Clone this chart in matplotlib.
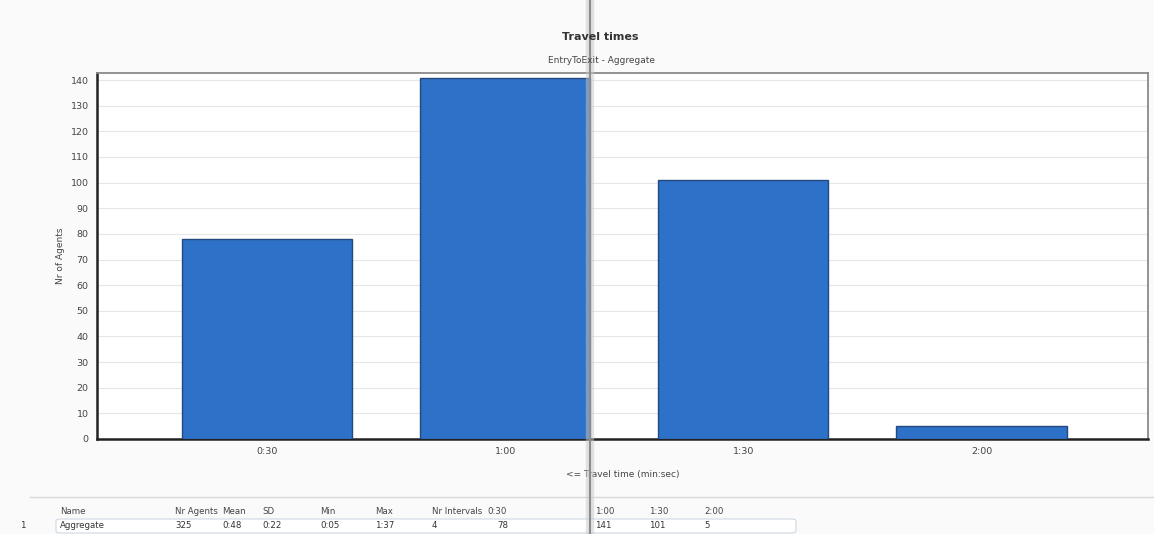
import numpy as np
import matplotlib.pyplot as plt
from matplotlib.patches import FancyBboxPatch
from matplotlib.lines import Line2D

# travel time histogram, EntryToExit - Aggregate
intervals = ['0:30', '1:00', '1:30', '2:00']
nr_agents = [78, 141, 101, 5]

# summary table under the chart
table_header = ['Name', 'Nr Agents', 'Mean', 'SD', 'Min', 'Max', 'Nr Intervals',
                '0:30', '1:00', '1:30', '2:00']
table_row = ['Aggregate', '325', '0:48', '0:22', '0:05', '1:37', '4',
             '78', '141', '101', '5']

plt.rcParams['font.family'] = ['DejaVu Sans']

fig = plt.figure(figsize=(11.54, 5.34), dpi=100, facecolor='#fafafa')
ax = fig.add_axes([0.084, 0.178, 0.911, 0.685])
ax.set_facecolor('white')

x = np.arange(len(intervals))
ax.bar(x, nr_agents, width=0.714, color='#2e71c8', edgecolor='#24497e', linewidth=1.0, zorder=3)

ax.set_xlim(-0.714, 3.70)
ax.set_ylim(0, 142.7)
ax.set_yticks(np.arange(0, 141, 10))
ax.set_xticks(x)
ax.set_xticklabels(intervals)
ax.tick_params(axis='both', labelsize=6.8, colors='#444444', length=0, pad=6)
ax.yaxis.grid(True, color='#e6e6e6', linewidth=0.8, zorder=0)

for side in ['left', 'bottom']:
    ax.spines[side].set_color('#222222')
    ax.spines[side].set_linewidth(1.8)
for side in ['top', 'right']:
    ax.spines[side].set_color('#8a8a8a')
    ax.spines[side].set_linewidth(1.3)

ax.set_ylabel('Nr of Agents', fontsize=6.5, color='#444444', labelpad=4)
ax.set_xlabel('<= Travel time (min:sec)', fontsize=6.5, color='#444444', labelpad=10)

fig.text(0.520, 0.930, 'Travel times', ha='center', va='center', fontsize=8,
         fontweight='bold', color='#333333')
fig.text(0.521, 0.887, 'EntryToExit - Aggregate', ha='center', va='center', fontsize=6.5,
         color='#444444')

# table
W, H = 1154, 534
fig.add_artist(Line2D([30 / W, 1.0], [1 - 497 / H, 1 - 497 / H], color='#d8d8d8', linewidth=1.0))
fig.add_artist(FancyBboxPatch((56 / W, 1 - 533 / H), 740 / W, 14 / H,
                              boxstyle='round,pad=0,rounding_size=0.004',
                              facecolor='white', edgecolor='#cfd8e3', linewidth=0.8))
col_x = [60, 175, 222, 262, 320, 375, 432, 487, 595, 649, 704]
for cx, head in zip(col_x, table_header):
    fig.text(cx / W, 1 - 511 / H, head, ha='left', va='center', fontsize=6.2, color='#444444')
data_x = col_x[:7] + [497, 595, 649, 704]
for cx, val in zip(data_x, table_row):
    fig.text(cx / W, 1 - 525 / H, val, ha='left', va='center', fontsize=6.2, color='#333333')
fig.text(20 / W, 1 - 525 / H, '1', ha='left', va='center', fontsize=6.2, color='#333333')

# fold line across the sheet
fig.add_artist(Line2D([590 / W, 590 / W], [0, 1], color='#c8c8c8', linewidth=6, alpha=0.5))
fig.add_artist(Line2D([590 / W, 590 / W], [0, 1], color='#8c8c8c', linewidth=1.5))

fig.savefig('out.png', dpi=100, facecolor=fig.get_facecolor())
